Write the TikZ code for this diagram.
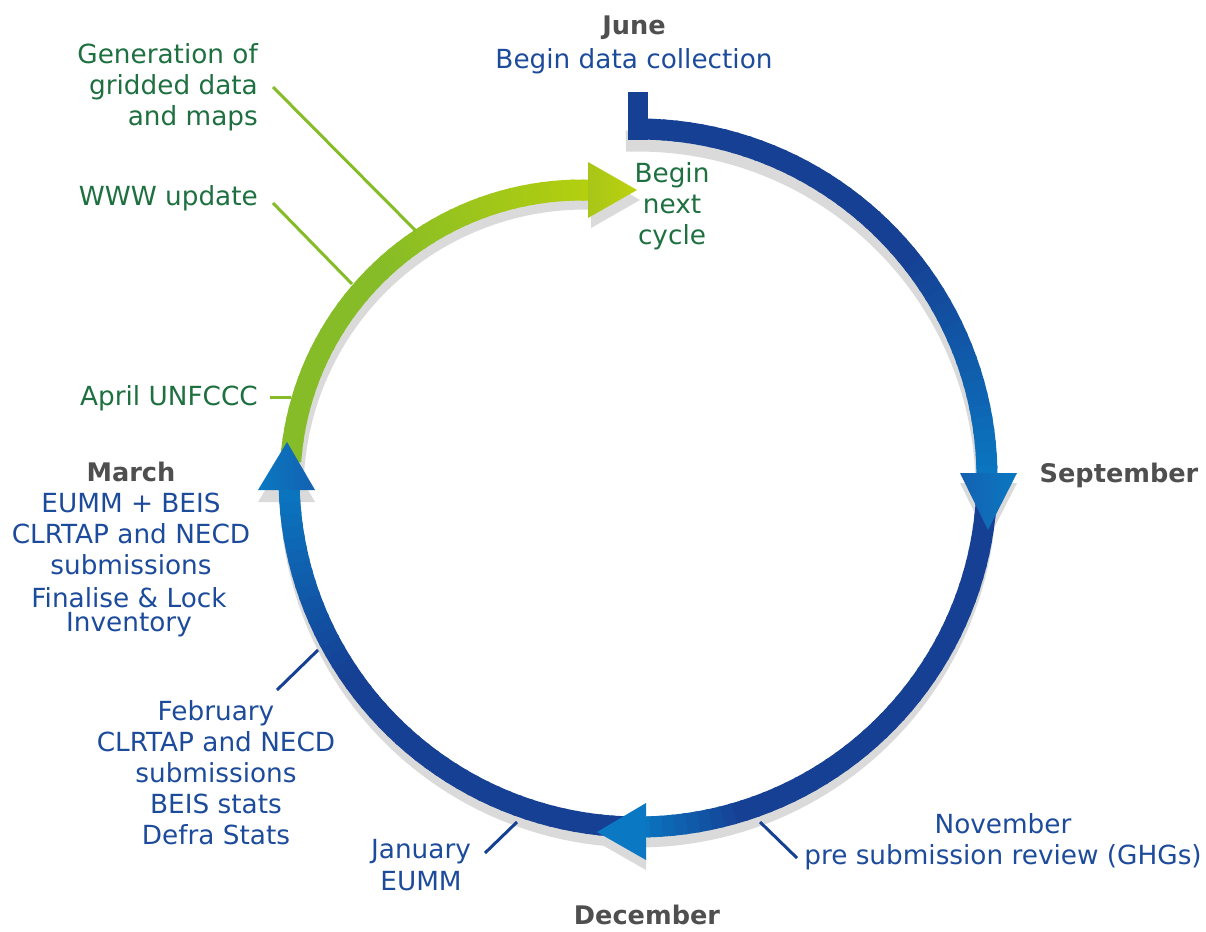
\documentclass[tikz,border=0pt]{standalone}
\usepackage{fontspec}
\setmainfont{DejaVu Sans}

\definecolor{ringdark}{HTML}{164094}
\definecolor{ringmid}{HTML}{1461B0}
\definecolor{ringlight}{HTML}{0A78C2}
\definecolor{ringgreen}{HTML}{85BC27}
\definecolor{ringgreenmid}{HTML}{A8C61A}
\definecolor{ringlime}{HTML}{BCD20A}
\definecolor{ringshade}{HTML}{DADADA}
\definecolor{txtblue}{HTML}{1D4B9B}
\definecolor{txtgreen}{HTML}{1E7040}
\definecolor{txtgray}{HTML}{4F4F4F}

\begin{document}
\begin{tikzpicture}[x=1pt, y=-1pt,
  lbl/.style={inner sep=0pt, align=center, text=txtblue, font=\fontsize{26.3}{31}\selectfont},
  grn/.style={lbl, text=txtgreen},
  mon/.style={lbl, text=txtgray, font=\fontsize{25.6}{31}\selectfont\bfseries},
  band/.style={line width=21pt},
  bluelead/.style={draw=ringdark, line width=3pt},
  greenlead/.style={draw=ringgreen, line width=3pt}]
\useasboundingbox (0,0) rectangle (1206,931);

% shadows
\draw[ringshade, band] plot[domain=-181:92, samples=150] ({638+348*cos(\x)},{489-348*sin(\x)});
\draw[ringshade, band] plot[domain=176:88.5, samples=60] ({585+292*cos(\x)},{491-292*sin(\x)});
\fill[ringshade] (960,483) -- (1017,483) -- (988,540) -- cycle;
\fill[ringshade] (646,813) -- (646,870) -- (597,842) -- cycle;
\fill[ringshade] (258,502) -- (315,502) -- (287,454) -- cycle;
\fill[ringshade] (591,172) -- (591,228) -- (640,200) -- cycle;

% blue ring, June to September
\fill[ringdark] (628,92) rectangle (648,140);
\foreach \a in {90,88,...,2} {
  \pgfmathtruncatemacro\f{max(0,min(100,(40-\a)*2.5))}
  \pgfmathsetmacro\b{\a-2.5}
  \draw[band, ringlight!\f!ringdark] plot[domain=\a:\b, samples=4] ({638+349*cos(\x)},{478-349*sin(\x)});
}
% September to December
\foreach \a in {-2,-4,...,-88} {
  \pgfmathtruncatemacro\f{max(0,min(100,(-72-\a)*100/17))}
  \pgfmathsetmacro\b{\a-2.5}
  \draw[band, ringlight!\f!ringdark] plot[domain=\a:\b, samples=4] ({638+349*cos(\x)},{478-349*sin(\x)});
}
% December to March
\foreach \a in {-92,-94,...,-178} {
  \pgfmathtruncatemacro\f{max(0,min(100,(-145-\a)*100/33))}
  \pgfmathsetmacro\b{\a-2.5}
  \draw[band, ringlight!\f!ringdark] plot[domain=\a:\b, samples=4] ({638+349*cos(\x)},{478-349*sin(\x)});
}

% green part, March to June
\foreach \a in {176,174,...,90} {
  \pgfmathtruncatemacro\f{max(0,min(85,(135-\a)*85/45))}
  \pgfmathsetmacro\b{\a-2.5}
  \draw[band, ringlime!\f!ringgreen] plot[domain=\a:\b, samples=4] ({582+292*cos(\x)},{482-292*sin(\x)});
}

% arrow heads
\shade[left color=ringmid, right color=ringlight] (960,473) -- (1017,473) -- (988,530) -- cycle;
\fill[ringlight] (646,803) -- (646,860) -- (597,832) -- cycle;
\shade[left color=ringlight, right color=ringmid] (258,490) -- (315,490) -- (287,442) -- cycle;
\shade[left color=ringgreenmid, right color=ringlime] (588,162) -- (588,218) -- (637,190) -- cycle;

% labels
\node[mon] (june) at (634,28) {June};
\node[lbl] (collect) at (634,61) {Begin data collection};
\node[grn] (nextcyc) at (672,206.5) {Begin\\next\\cycle};
\node[mon] (sept) at (1119,475) {September};
\node[lbl] (nov) at (1003,842) {November\\pre submission review (GHGs)};
\node[mon] (dec) at (647,915) {December};
\node[lbl, font=\fontsize{26.3}{32}\selectfont] (jan) at (421,865) {January\\EUMM};
\node[lbl] (feb) at (216,773) {February\\CLRTAP and NECD\\submissions\\BEIS stats\\Defra Stats};
\node[mon] (march) at (131,472) {March};
\node[lbl] (marchsub) at (131,534) {EUMM + BEIS\\CLRTAP and NECD\\submissions};
\node[lbl, font=\fontsize{26.3}{24}\selectfont] (lock) at (129,612) {Finalise \& Lock\\Inventory};
\node[grn, anchor=east] (april) at (258,398) {April UNFCCC};
\node[grn, anchor=east] (www) at (258,198) {WWW update};
\node[grn, anchor=east, align=right] (gen) at (258,87.5) {Generation of\\gridded data\\and maps};

% leader lines
\coordinate (genfoot) at (273,87);
\coordinate (genring) at (416,231);
\coordinate (wwwfoot) at (273,203);
\coordinate (wwwring) at (352,284);
\coordinate (aprfoot) at (270,397);
\coordinate (aprring) at (291,397);
\coordinate (febfoot) at (277,690);
\coordinate (febring) at (318,650);
\coordinate (janfoot) at (485,853);
\coordinate (janring) at (517,822);
\coordinate (novfoot) at (797,858);
\coordinate (novring) at (760,822);
\draw[greenlead] (genfoot) -- (genring);
\draw[greenlead] (wwwfoot) -- (wwwring);
\draw[greenlead] (aprfoot) -- (aprring);
\draw[bluelead] (febfoot) -- (febring);
\draw[bluelead] (janfoot) -- (janring);
\draw[bluelead] (novfoot) -- (novring);
\end{tikzpicture}
\end{document}
